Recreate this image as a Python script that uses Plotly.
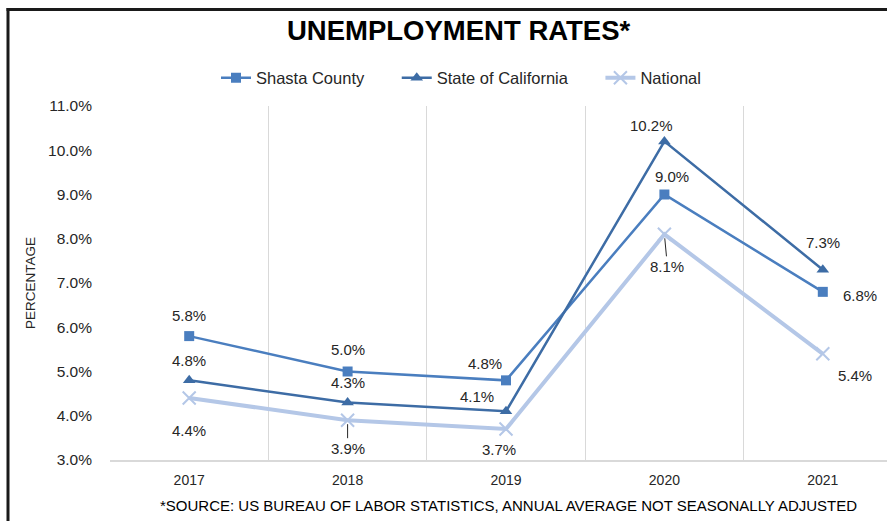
import plotly.graph_objects as go

years = ["2017", "2018", "2019", "2020", "2021"]
shasta = [5.8, 5.0, 4.8, 9.0, 6.8]
california = [4.8, 4.3, 4.1, 10.2, 7.3]
national = [4.4, 3.9, 3.7, 8.1, 5.4]
y_ticks = [3.0, 4.0, 5.0, 6.0, 7.0, 8.0, 9.0, 10.0, 11.0]
series_names = ["Shasta County", "State of California", "National"]

C_SHASTA = "#4A7EBF"
C_CA = "#3D6CA5"
C_NAT = "#B4C7E7"
FONT = "Liberation Sans, Arial, sans-serif"

W, H = 887, 521
L, R, T, B = 110, 0, 106, 61
PW = W - L - R
PH = H - T - B

def px_x(p):
    return (p - L) / PW

def px_y(p):
    return (H - B - p) / PH

PAD = "\u00a0" * 6  # widen legend spacing between entries

fig = go.Figure()
fig.add_trace(go.Scatter(x=years, y=shasta, name=series_names[0] + PAD, mode="lines+markers",
                         line=dict(color=C_SHASTA, width=2.5),
                         marker=dict(symbol="square", size=10, color=C_SHASTA)))
fig.add_trace(go.Scatter(x=years, y=california, name=series_names[1] + PAD, mode="lines+markers",
                         line=dict(color=C_CA, width=2.5),
                         marker=dict(symbol="triangle-up", size=11, color=C_CA)))
fig.add_trace(go.Scatter(x=years, y=national, name=series_names[2], mode="lines+markers",
                         line=dict(color=C_NAT, width=4),
                         marker=dict(symbol="x-thin", size=13, color=C_NAT,
                                     line=dict(color=C_NAT, width=2))))

# label offsets (xshift, yshift) per point
off_shasta = [(0, 21), (0, 22), (-21, 17), (8, 18), (37, -4)]
off_ca = [(0, 20), (0, 20), (-29, 15), (-13, 16), (0, 27)]
off_nat = [(0, -32), (0, -28), (-7, -20), (3, -32), (32, -22)]
leader_nat = [False, True, False, True, False]

LBL_FONT = dict(family=FONT, size=15, color="#262626")
annotations = []
for vals, offs in ((shasta, off_shasta), (california, off_ca)):
    for i, (v, (dx, dy)) in enumerate(zip(vals, offs)):
        annotations.append(dict(x=i, y=v, xref="x", yref="y", text=f"{v:.1f}%",
                                showarrow=False, xshift=dx, yshift=dy,
                                xanchor="center", yanchor="middle", font=LBL_FONT))
for i, (v, (dx, dy), ld) in enumerate(zip(national, off_nat, leader_nat)):
    if ld:
        annotations.append(dict(x=i, y=v, xref="x", yref="y", text=f"{v:.1f}%",
                                showarrow=True, ax=dx, ay=-dy, arrowhead=0,
                                arrowwidth=1, arrowcolor="#262626", standoff=4,
                                font=LBL_FONT))
    else:
        annotations.append(dict(x=i, y=v, xref="x", yref="y", text=f"{v:.1f}%",
                                showarrow=False, xshift=dx, yshift=dy,
                                xanchor="center", yanchor="middle", font=LBL_FONT))

annotations.append(dict(x=px_x(459), y=px_y(30), xref="paper", yref="paper",
                        xanchor="center", yanchor="middle",
                        text="<b>UNEMPLOYMENT RATES*</b>", showarrow=False,
                        font=dict(family=FONT, size=27.5, color="#000000")))
annotations.append(dict(x=px_x(30), y=px_y(283), xref="paper", yref="paper",
                        xanchor="center", yanchor="middle",
                        text="PERCENTAGE", textangle=-90, showarrow=False,
                        font=dict(family=FONT, size=13.5, color="#262626")))
annotations.append(dict(x=px_x(508), y=px_y(505), xref="paper", yref="paper",
                        xanchor="center", yanchor="middle",
                        text="*SOURCE: US BUREAU OF LABOR STATISTICS, ANNUAL AVERAGE NOT SEASONALLY ADJUSTED",
                        showarrow=False,
                        font=dict(family=FONT, size=15, color="#000000")))

shapes = [
    dict(type="line", xref="paper", yref="paper", x0=px_x(6.5), x1=px_x(887), y0=px_y(9.5), y1=px_y(9.5),
         line=dict(color="#1a1a1a", width=3)),
    dict(type="line", xref="paper", yref="paper", x0=px_x(8), x1=px_x(8), y0=px_y(8), y1=px_y(521),
         line=dict(color="#1a1a1a", width=3)),
]

fig.update_layout(
    width=W, height=H,
    margin=dict(l=L, r=R, t=T, b=B),
    paper_bgcolor="white", plot_bgcolor="white",
    font=dict(family=FONT, size=15, color="#262626"),
    showlegend=True,
    legend=dict(orientation="h", x=px_x(461), xanchor="center", y=px_y(78), yanchor="middle",
                font=dict(family=FONT, size=16.5, color="#262626"), bgcolor="rgba(0,0,0,0)"),
    annotations=annotations,
    shapes=shapes,
    xaxis=dict(type="category", range=[-0.5, -0.5 + PW / 158.4], tickson="boundaries",
               showgrid=True, gridcolor="#d9d9d9", gridwidth=1,
               showline=True, linecolor="#d9d9d9", linewidth=1.5,
               ticks="", tickfont=dict(family=FONT, size=14, color="#262626"),
               ticklabelstandoff=6, zeroline=False),
    yaxis=dict(range=[3, 11], tickvals=y_ticks, ticktext=[f"{v:.1f}%" for v in y_ticks],
               showgrid=False, zeroline=False, showline=False, ticks="",
               tickfont=dict(family=FONT, size=15.5, color="#262626"), ticklabelstandoff=17),
)

fig.write_html("out.html")
